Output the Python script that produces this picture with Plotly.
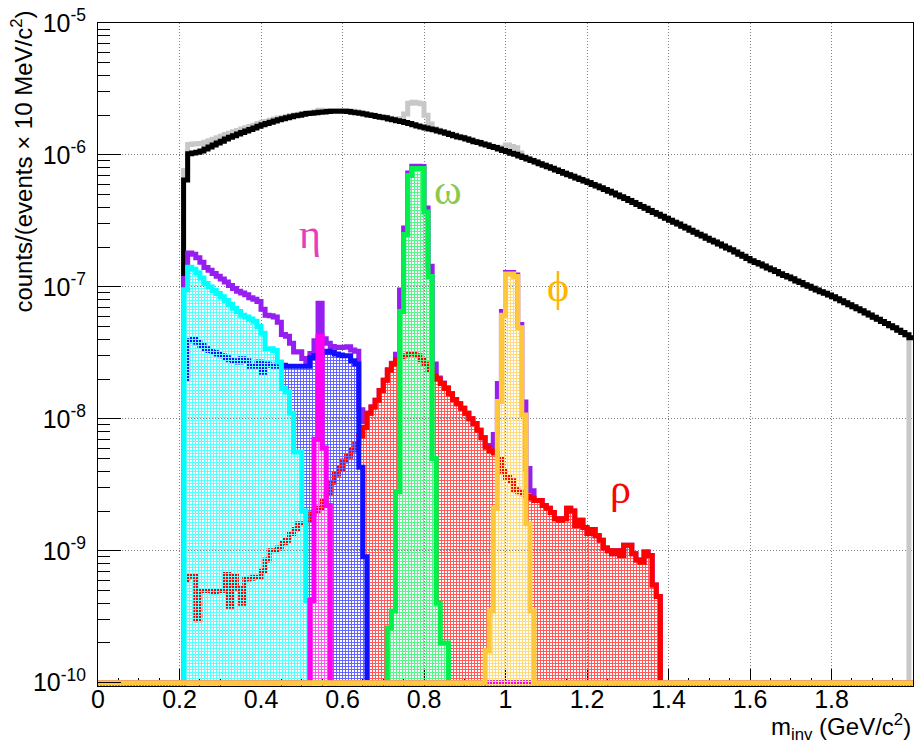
import numpy as np
import plotly.graph_objects as go

# ---------------------------------------------------------------------------
# Binning: 10 MeV/c^2 bins between 0 and 2 GeV/c^2
# ---------------------------------------------------------------------------
BIN_WIDTH = 0.01
N_BINS = 200
edges = np.round(np.arange(N_BINS + 1) * BIN_WIDTH, 2)

# ---------------------------------------------------------------------------
# Bin contents, counts/(events x 10 MeV/c^2); each list starts at the bin
# whose lower edge is given by the matching *_first value
# ---------------------------------------------------------------------------
background_first = 0.21
background = [
    6.46e-7, 1.02e-6, 1.035e-6, 1.05e-6, 1.07e-6, 1.11e-6, 1.15e-6, 1.19e-6, 1.23e-6, 1.27e-6,   # 0.21
    1.32e-6, 1.36e-6, 1.40e-6, 1.44e-6, 1.48e-6, 1.52e-6, 1.56e-6, 1.60e-6, 1.65e-6, 1.69e-6,    # 0.31
    1.73e-6, 1.77e-6, 1.81e-6, 1.85e-6, 1.88e-6, 1.91e-6, 1.95e-6, 1.98e-6, 2.00e-6, 2.03e-6,    # 0.41
    2.06e-6, 2.07e-6, 2.09e-6, 2.11e-6, 2.12e-6, 2.13e-6, 2.14e-6, 2.14e-6, 2.14e-6, 2.14e-6,    # 0.51
    2.13e-6, 2.11e-6, 2.09e-6, 2.07e-6, 2.04e-6, 2.01e-6, 1.99e-6, 1.96e-6, 1.93e-6, 1.91e-6,    # 0.61
    1.87e-6, 1.85e-6, 1.82e-6, 1.79e-6, 1.76e-6, 1.73e-6, 1.69e-6, 1.66e-6, 1.63e-6, 1.60e-6,    # 0.71
    1.57e-6, 1.55e-6, 1.52e-6, 1.49e-6, 1.46e-6, 1.43e-6, 1.40e-6, 1.37e-6, 1.35e-6, 1.32e-6,    # 0.81
    1.29e-6, 1.26e-6, 1.24e-6, 1.21e-6, 1.19e-6, 1.16e-6, 1.14e-6, 1.11e-6, 1.08e-6, 1.06e-6,    # 0.91
    1.03e-6, 1.01e-6, 9.82e-7, 9.57e-7, 9.33e-7, 9.08e-7, 8.83e-7, 8.59e-7, 8.36e-7, 8.13e-7,    # 1.01
    7.91e-7, 7.69e-7, 7.48e-7, 7.28e-7, 7.08e-7, 6.89e-7, 6.70e-7, 6.52e-7, 6.34e-7, 6.17e-7,    # 1.11
    5.98e-7, 5.81e-7, 5.64e-7, 5.47e-7, 5.31e-7, 5.14e-7, 4.98e-7, 4.82e-7, 4.67e-7, 4.52e-7,    # 1.21
    4.37e-7, 4.22e-7, 4.07e-7, 3.94e-7, 3.80e-7, 3.67e-7, 3.55e-7, 3.43e-7, 3.31e-7, 3.20e-7,    # 1.31
    3.09e-7, 2.99e-7, 2.88e-7, 2.79e-7, 2.69e-7, 2.60e-7, 2.51e-7, 2.43e-7, 2.34e-7, 2.26e-7,    # 1.41
    2.19e-7, 2.11e-7, 2.04e-7, 1.97e-7, 1.91e-7, 1.84e-7, 1.77e-7, 1.71e-7, 1.64e-7, 1.58e-7,    # 1.51
    1.53e-7, 1.49e-7, 1.44e-7, 1.39e-7, 1.35e-7, 1.31e-7, 1.26e-7, 1.22e-7, 1.19e-7, 1.15e-7,    # 1.61
    1.11e-7, 1.08e-7, 1.04e-7, 1.01e-7, 9.77e-8, 9.48e-8, 9.20e-8, 8.93e-8, 8.67e-8, 8.41e-8,    # 1.71
    8.13e-8, 7.85e-8, 7.59e-8, 7.33e-8, 7.08e-8, 6.82e-8, 6.58e-8, 6.34e-8, 6.11e-8, 5.89e-8,    # 1.81
    5.68e-8, 5.47e-8, 5.27e-8, 5.08e-8, 4.90e-8, 4.70e-8, 4.51e-8, 4.33e-8, 4.12e-8,             # 1.91
]

pi0_dalitz_first = 0.21
pi0_dalitz = [
    9.5e-8, 1.41e-7, 1.36e-7, 1.28e-7, 1.17e-7, 1.06e-7, 1.0e-7, 9.4e-8, 8.9e-8, 8.4e-8,        # 0.21
    7.9e-8, 7.4e-8, 6.9e-8, 6.5e-8, 6.1e-8, 5.9e-8, 5.7e-8, 5.5e-8, 5.0e-8, 4.45e-8,           # 0.31
    3.4e-8, 3.4e-8, 3.3e-8, 2.7e-8, 1.7e-8, 1.6e-8, 1.1e-8, 5.6e-9, 5.6e-9, 2.0e-9, 4.2e-10,   # 0.41
]

eta_dalitz_first = 0.21
eta_dalitz = [
    2.0e-8, 3.9e-8, 4.0e-8, 3.8e-8, 3.6e-8, 3.4e-8, 3.3e-8, 3.2e-8, 3.1e-8, 3.0e-8,            # 0.21
    2.9e-8, 2.8e-8, 2.75e-8, 2.7e-8, 2.85e-8, 2.75e-8, 2.5e-8, 2.5e-8, 2.7e-8, 2.25e-8,        # 0.31
    2.6e-8, 2.55e-8, 2.5e-8, 2.6e-8, 2.55e-8, 2.5e-8, 2.5e-8, 2.5e-8, 2.5e-8, 2.5e-8,          # 0.41
    2.5e-8, 2.9e-8, 3.0e-8, 3.1e-8, 3.2e-8, 3.25e-8, 3.2e-8, 3.1e-8, 3.05e-8, 3.0e-8,          # 0.51
    3.0e-8, 2.75e-8, 2.6e-8, 4.3e-9, 9.0e-10,                                                  # 0.61
]

rho_first = 0.21
rho = [
    6.0e-10, 6.4e-10, 6.4e-10, 3.0e-10, 5.0e-10, 5.0e-10, 5.0e-10, 4.8e-10, 5.0e-10, 5.0e-10,  # 0.21
    6.6e-10, 3.8e-10, 6.4e-10, 5.2e-10, 4.0e-10, 6.1e-10, 6.2e-10, 6.3e-10, 6.3e-10, 7.0e-10,  # 0.31
    8.5e-10, 1.0e-9, 1.0e-9, 1.05e-9, 1.15e-9, 1.2e-9, 1.35e-9, 1.45e-9, 1.6e-9, 1.6e-9,      # 0.41
    1.7e-9, 1.9e-9, 2.0e-9, 2.1e-9, 2.4e-9, 2.7e-9, 3.3e-9, 3.8e-9, 4.2e-9, 4.8e-9,           # 0.51
    5.2e-9, 5.8e-9, 6.5e-9, 7.4e-9, 8.6e-9, 1.1e-8, 1.23e-8, 1.38e-8, 1.64e-8, 1.96e-8,       # 0.61
    2.33e-8, 2.6e-8, 2.8e-8, 2.95e-8, 3.0e-8, 3.1e-8, 3.1e-8, 3.0e-8, 2.8e-8, 2.6e-8,         # 0.71
    2.35e-8, 2.1e-8, 2.0e-8, 1.85e-8, 1.7e-8, 1.55e-8, 1.4e-8, 1.3e-8, 1.2e-8, 1.1e-8,        # 0.81
    1.0e-8, 9.2e-9, 8.2e-9, 7.2e-9, 6.1e-9, 5.7e-9, 5.5e-9, 5.0e-9, 4.0e-9, 3.6e-9,          # 0.91
    3.4e-9, 2.9e-9, 2.8e-9, 2.7e-9, 2.6e-9, 2.5e-9, 2.4e-9, 2.4e-9, 2.2e-9, 2.1e-9,          # 1.01
    1.95e-9, 1.75e-9, 1.7e-9, 1.75e-9, 2.1e-9, 2.0e-9, 1.55e-9, 1.7e-9, 1.5e-9, 1.35e-9,     # 1.11
    1.45e-9, 1.3e-9, 1.2e-9, 1.05e-9, 1.0e-9, 9.5e-10, 1.0e-9, 9.2e-10, 1.1e-9, 1.1e-9,      # 1.21
    9.5e-10, 8.5e-10, 8.2e-10, 9.8e-10, 9.2e-10, 5.5e-10, 4.5e-10,                           # 1.31
]

eta_first = 0.52
eta = [4.2e-10, 7.0e-9, 4.2e-8, 6.0e-9, 2.2e-9]

omega_first = 0.71
omega = [2.6e-10, 3.5e-10, 2.8e-9, 6.5e-8, 2.5e-7, 7.0e-7, 7.9e-7, 7.9e-7, 7.9e-7,
         3.7e-7, 1.2e-7, 5.0e-9, 4.0e-10, 2.0e-10, 2.0e-10]

phi_first = 0.95
phi = [1.75e-10, 3.5e-10, 2.1e-9, 1.35e-8, 6.1e-8, 1.25e-7, 1.25e-7, 1.2e-7,
       4.9e-8, 1.07e-8, 1.6e-9, 3.5e-10]

# axis ticks
x_major = [0, 0.2, 0.4, 0.6, 0.8, 1.0, 1.2, 1.4, 1.6, 1.8, 2.0]
x_major_text = ["0", "0.2", "0.4", "0.6", "0.8", "1", "1.2", "1.4", "1.6", "1.8", "2"]
y_decades = [-10, -9, -8, -7, -6, -5]

# peak labels: (text, mass, height, colour)
peak_labels = [
    ("η", 0.52, 2.5e-7, "#e83cbe"),
    ("ω", 0.858, 5.4e-7, "#8cc84b"),
    ("ϕ", 1.13, 1.0e-7, "#ffb400"),
    ("ρ", 1.283, 2.95e-9, "#ff0000"),
]


def to_bins(first, contents):
    """Place a list of bin contents into the full 200-bin array."""
    h = np.zeros(N_BINS)
    i0 = int(round(first / BIN_WIDTH))
    h[i0:i0 + len(contents)] = contents
    return h


h_background = to_bins(background_first, background)
h_pi0 = to_bins(pi0_dalitz_first, pi0_dalitz)
h_etad = to_bins(eta_dalitz_first, eta_dalitz)
h_rho = to_bins(rho_first, rho)
h_eta = to_bins(eta_first, eta)
h_omega = to_bins(omega_first, omega)
h_phi = to_bins(phi_first, phi)

# cocktail sum and cocktail + combinatorial background
h_cocktail = h_pi0 + h_etad + h_rho + h_eta + h_omega + h_phi
h_total = h_background + h_cocktail
h_total[-1] = 0.0  # the summed histogram has no entries in its last bin

Y_MIN_LOG = -10.025
FLOOR = 1e-10  # empty bins are drawn along the lower edge, as on a log pad


def lighten(hex_color, amount):
    """Mix a colour towards white by the given fraction."""
    h = hex_color.lstrip("#")
    rgb = [int(h[i:i + 2], 16) for i in (0, 2, 4)]
    rgb = [round(c + (255 - c) * amount) for c in rgb]
    return "rgb({},{},{})".format(*rgb)


def hist_trace(h, color, width=5, filled=False):
    y = np.where(h > 0, h, FLOOR)
    y = np.append(y, y[-1])
    tr = go.Scatter(
        x=edges, y=y, mode="lines",
        line=dict(color=color, width=width, shape="hv"),
        hoverinfo="skip", showlegend=False,
    )
    if filled:
        # pixel-aligned hatch: fills of the same style replace each other where
        # they overlap, while outlines underneath still show through the gaps
        tr.update(
            fill="tozeroy",
            fillpattern=dict(shape="+", size=3, solidity=5 / 9,
                             fgcolor=lighten(color, 0.35), bgcolor="rgba(0,0,0,0)",
                             fillmode="replace"),
        )
    return tr


fig = go.Figure()
fig.add_trace(hist_trace(h_total, "#c8c8c8"))
fig.add_trace(hist_trace(h_background, "#000000"))
fig.add_trace(hist_trace(h_cocktail, "#961ef0"))
fig.add_trace(hist_trace(h_rho, "#ff0000", filled=True))
fig.add_trace(hist_trace(h_etad, "#1010ff", filled=True))
fig.add_trace(hist_trace(h_pi0, "#00ffff", filled=True))
fig.add_trace(hist_trace(h_omega, "#00f04c", filled=True))
fig.add_trace(hist_trace(h_eta, "#ff00f0", filled=True))
fig.add_trace(hist_trace(h_phi, "#ffc83c", filled=True))

for text, mx, my, col in peak_labels:
    fig.add_annotation(
        x=mx, y=np.log10(my), xref="x", yref="y", text=text, showarrow=False,
        font=dict(family="Liberation Serif, DejaVu Serif, serif", size=42, color=col),
        xanchor="center", yanchor="middle",
    )

# axis titles, aligned to the ends of the axes
fig.add_annotation(
    x=1.0, y=-0.062, xref="paper", yref="paper", xanchor="right", yanchor="middle",
    text="m<sub>inv</sub> (GeV/c<sup>2</sup>)", showarrow=False,
    font=dict(size=24),
)
fig.add_annotation(
    x=-0.093, y=1.022, xref="paper", yref="paper", xanchor="center", yanchor="top",
    text="counts/(events × 10 MeV/c<sup>2</sup>)", textangle=-90, showarrow=False,
    font=dict(size=24),
)

x_minor = [round(0.05 * i, 2) for i in range(41) if i % 4 != 0]
y_minor = [k * 10.0 ** d for d in y_decades[:-1] for k in range(2, 10)]

fig.update_layout(
    width=918, height=745,
    margin=dict(l=98, r=5, t=23, b=59, pad=0),
    paper_bgcolor="white", plot_bgcolor="white",
    showlegend=False,
    font=dict(family="Liberation Sans, Arial, sans-serif", size=25, color="black"),
)
fig.update_xaxes(
    range=[0, 2], tickmode="array", tickvals=x_major, ticktext=x_major_text,
    ticks="inside", ticklen=17, tickwidth=1, tickcolor="black",
    minor=dict(tickmode="array", tickvals=x_minor, ticks="inside", ticklen=8,
               tickwidth=1, tickcolor="black", showgrid=False),
    showgrid=True, gridcolor="#808080", griddash="1px,2px", gridwidth=1,
    showline=True, linecolor="black", linewidth=1, mirror=True,
    zeroline=False, layer="below traces", ticklabelstandoff=-9,
)
fig.update_yaxes(
    type="log", range=[Y_MIN_LOG, -5], tickmode="array",
    tickvals=[10.0 ** d for d in y_decades],
    ticktext=[f"10<sup>{d}</sup>" for d in y_decades],
    ticks="inside", ticklen=23, tickwidth=1, tickcolor="black",
    minor=dict(tickmode="array", tickvals=y_minor, ticks="inside", ticklen=12,
               tickwidth=1, tickcolor="black", showgrid=False),
    showgrid=True, gridcolor="#808080", griddash="1px,2px", gridwidth=1,
    showline=True, linecolor="black", linewidth=1, mirror=True,
    zeroline=False, ticklabelstandoff=6,
)

fig.write_html("out.html")
